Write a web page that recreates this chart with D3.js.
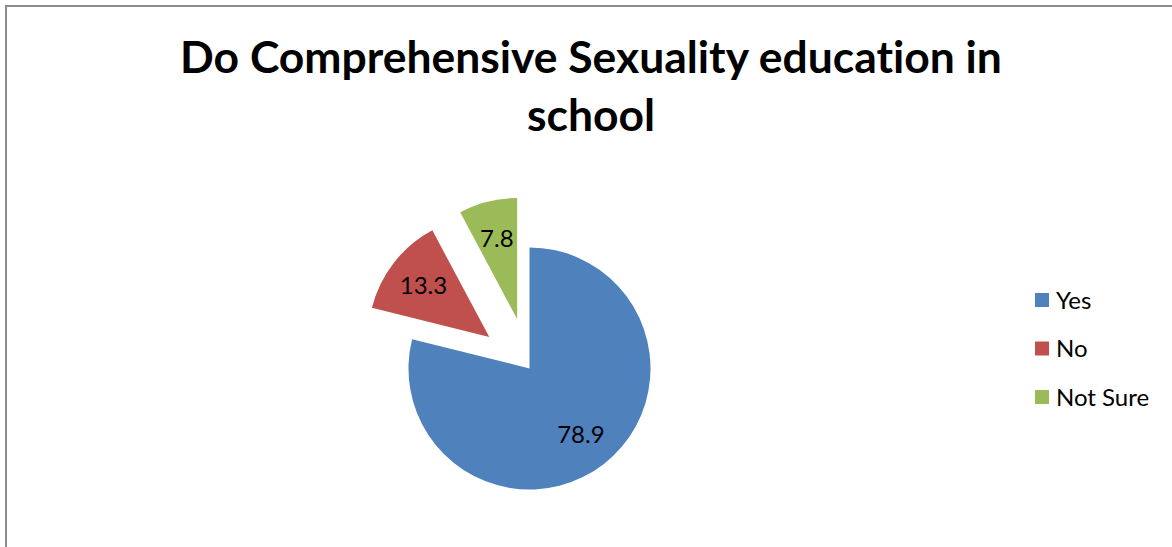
<!DOCTYPE html>
<html>
<head>
<meta charset="utf-8">
<script src="https://cdn.jsdelivr.net/npm/d3@7"></script>
<style>
  html, body { margin: 0; padding: 0; background: #fff; }
  svg { display: block; font-family: Lato, "Open Sans", sans-serif; font-variant-ligatures: none; font-feature-settings: "liga" 0, "clig" 0; }
</style>
</head>
<body>
<div id="chart"></div>
<script>
const titleLines = ["Do Comprehensive Sexuality education in", "school"];
const categories = ["Yes", "No", "Not Sure"];
const values = [78.9, 13.3, 7.8];
const colors = ["#4F81BD", "#C0504D", "#9BBB59"];
const exploded = [false, true, true];

const width = 1172;
const height = 547;
const radius = 121;
const center = [529.5, 368.5];
const explodeDist = 51;

const svg = d3.select("#chart")
  .append("svg")
  .attr("width", width)
  .attr("height", height);

svg.append("rect")
  .attr("x", 6)
  .attr("y", 6)
  .attr("width", width + 20)
  .attr("height", height + 20)
  .attr("fill", "#fff")
  .attr("stroke", "#8c8c8c")
  .attr("stroke-width", 2);

// title, sized to span the same width as the reference
const title = svg.append("g").attr("font-weight", 700).attr("fill", "#000");
const line1 = title.append("text")
  .attr("x", 591)
  .attr("y", 73)
  .attr("text-anchor", "middle")
  .attr("font-size", 40)
  .text(titleLines[0]);
const fit = 40 * 822 / line1.node().getComputedTextLength();
line1.attr("font-size", fit);
title.append("text")
  .attr("x", 591)
  .attr("y", 131)
  .attr("text-anchor", "middle")
  .attr("font-size", fit)
  .text(titleLines[1]);

const data = categories.map((c, i) => ({ name: c, value: values[i], color: colors[i], exploded: exploded[i] }));

const pie = d3.pie().value((d) => d.value).sort(null);
const arc = d3.arc().innerRadius(0).outerRadius(radius);
const labelArc = d3.arc().innerRadius(radius * 0.69).outerRadius(radius * 0.69);

const slices = svg.append("g")
  .attr("transform", `translate(${center[0]},${center[1]})`)
  .selectAll("g")
  .data(pie(data))
  .join("g")
  .attr("transform", (d) => {
    if (!d.data.exploded) return null;
    const a = (d.startAngle + d.endAngle) / 2;
    return `translate(${Math.sin(a) * explodeDist},${-Math.cos(a) * explodeDist})`;
  });

slices.append("path")
  .attr("d", arc)
  .attr("fill", (d) => d.data.color);

slices.append("text")
  .attr("transform", (d) => `translate(${labelArc.centroid(d)})`)
  .attr("text-anchor", "middle")
  .attr("dy", "0.36em")
  .attr("font-size", 24)
  .attr("fill", "#000")
  .text((d) => d.data.value);

// legend
const legend = svg.append("g")
  .selectAll("g")
  .data(data)
  .join("g")
  .attr("transform", (d, i) => `translate(1035,${300 + i * 48.5})`);

legend.append("rect")
  .attr("x", 0)
  .attr("y", -7)
  .attr("width", 14)
  .attr("height", 14)
  .attr("fill", (d) => d.color);

legend.append("text")
  .attr("x", 21)
  .attr("dy", "0.36em")
  .attr("font-size", 24)
  .attr("fill", "#000")
  .text((d) => d.name);
</script>
</body>
</html>
